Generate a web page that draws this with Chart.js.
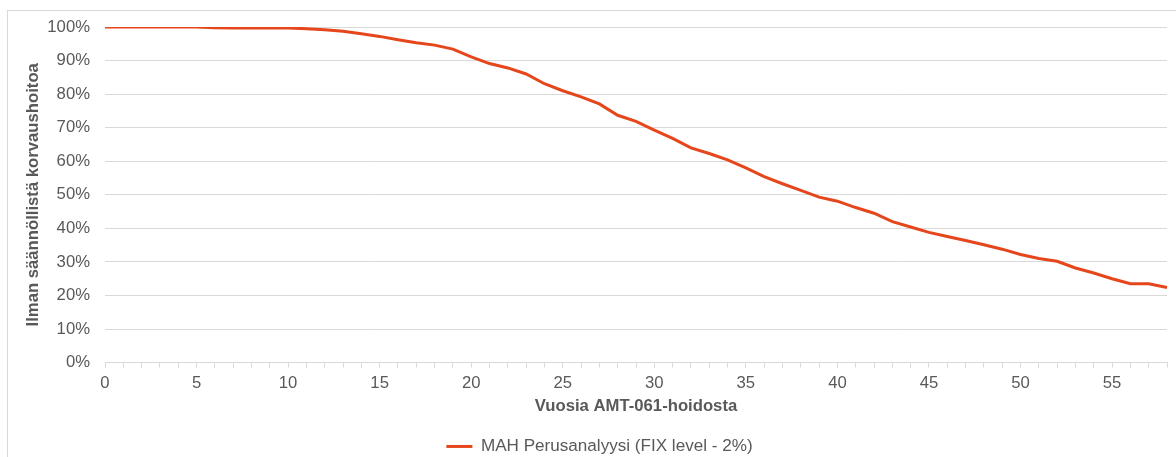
<!DOCTYPE html>
<html>
<head>
<meta charset="utf-8">
<script src="https://cdn.jsdelivr.net/npm/chart.js@4.4.1/dist/chart.umd.min.js"></script>
<style>
  html, body { margin: 0; padding: 0; background: #ffffff; overflow: hidden; }
  #frame { position: absolute; left: 7px; top: 10px; width: 1200px; height: 500px; border: 1px solid #d9d9d9; box-sizing: border-box; }
  #wrap { position: absolute; left: 0; top: 0; width: 1176px; height: 457px; }
</style>
</head>
<body>
<div id="frame"></div>
<div id="wrap"><canvas id="chart" width="1176" height="457"></canvas></div>
<script>
// Years since AMT-061 treatment
const years = [
  0, 1, 2, 3, 4, 5, 6, 7, 8, 9,
  10, 11, 12, 13, 14, 15, 16, 17, 18, 19,
  20, 21, 22, 23, 24, 25, 26, 27, 28, 29,
  30, 31, 32, 33, 34, 35, 36, 37, 38, 39,
  40, 41, 42, 43, 44, 45, 46, 47, 48, 49,
  50, 51, 52, 53, 54, 55, 56, 57, 58
];

// Share of patients without regular replacement therapy (%)
const freeOfProphylaxis = [
  100.0, 100.0, 100.0, 100.0, 100.0, 100.0, 99.8, 99.7, 99.7, 99.7,
  99.7, 99.5, 99.2, 98.7, 98.0, 97.2, 96.2, 95.3, 94.6, 93.4,
  91.1, 89.1, 87.8, 86.0, 83.1, 81.0, 79.2, 77.1, 73.7, 71.9,
  69.3, 66.8, 64.0, 62.3, 60.4, 58.0, 55.4, 53.3, 51.3, 49.3,
  48.1, 46.2, 44.5, 42.0, 40.4, 38.8, 37.6, 36.4, 35.1, 33.8,
  32.2, 31.0, 30.2, 28.2, 26.7, 25.0, 23.5, 23.5, 22.4
];

const seriesName = 'MAH Perusanalyysi (FIX level - 2%)';
const xTitle = 'Vuosia AMT-061-hoidosta';
const yTitle = 'Ilman säännöllistä korvaushoitoa';
const yTicks = [0, 10, 20, 30, 40, 50, 60, 70, 80, 90, 100];

const FONT = '"Liberation Sans", Arial, Helvetica, sans-serif';
const TEXT = '#595959';
const GRID = '#d9d9d9';
const LINE = '#e5461c';

new Chart(document.getElementById('chart'), {
  type: 'line',
  data: {
    labels: years,
    datasets: [{
      label: seriesName,
      data: freeOfProphylaxis,
      borderColor: LINE,
      backgroundColor: LINE,
      borderWidth: 3,
      pointRadius: 0,
      pointHoverRadius: 0,
      tension: 0,
      fill: false
    }]
  },
  options: {
    responsive: false,
    animation: false,
    devicePixelRatio: 1,
    // the legend's built-in bottom gap is allowed to fall below the canvas edge
    layout: { padding: { left: 32, right: 9, top: 27, bottom: -8 } },
    plugins: {
      tooltip: { enabled: false },
      legend: {
        position: 'bottom',
        labels: {
          color: TEXT,
          font: { family: FONT, size: 17.1 },
          usePointStyle: true,
          pointStyle: 'line',
          pointStyleWidth: 26,
          boxHeight: 17.1,
          padding: 4
        }
      }
    },
    scales: {
      x: {
        type: 'category',
        offset: false,
        border: { display: true, color: GRID, width: 1 },
        grid: { drawOnChartArea: false, drawTicks: true, tickLength: 5, color: GRID },
        ticks: {
          autoSkip: false,
          maxRotation: 0,
          color: TEXT,
          padding: 6,
          font: { family: FONT, size: 16.7 },
          callback: function (value, index) {
            const y = years[index];
            return y % 5 === 0 ? String(y) : '';
          }
        },
        title: {
          display: true,
          text: xTitle,
          color: TEXT,
          font: { family: FONT, size: 16.7, weight: 'bold' },
          padding: { top: 0, bottom: 17.3 }
        },
        afterFit: function (scale) { scale.height = 71.3; }
      },
      y: {
        min: 0,
        max: 100,
        border: { display: false },
        grid: { color: GRID, drawTicks: false },
        afterBuildTicks: function (scale) {
          scale.ticks = yTicks.map(v => ({ value: v }));
        },
        ticks: {
          color: TEXT,
          padding: 15,
          font: { family: FONT, size: 16.7 },
          callback: function (v) { return v + '%'; }
        },
        title: {
          display: true,
          text: yTitle,
          color: TEXT,
          font: { family: FONT, size: 16.7, weight: 'bold' },
          padding: { top: -9, bottom: 0 }
        },
        afterFit: function (scale) { scale.width = 73; }
      }
    }
  }
});
</script>
</body>
</html>
